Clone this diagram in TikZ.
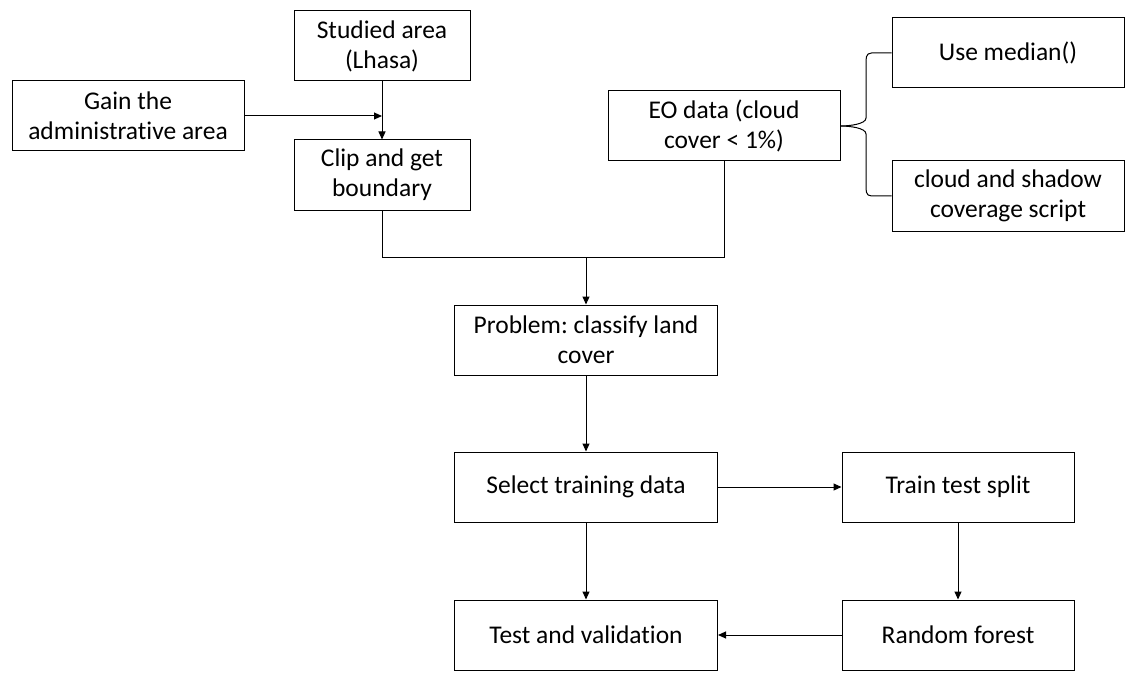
\documentclass[tikz,border=0pt]{standalone}
\usepackage{fontspec}
\setmainfont{Carlito}[Ligatures=NoCommon]
\usetikzlibrary{arrows.meta}
\frenchspacing
\begin{document}
\begin{tikzpicture}[x=1pt,y=-1pt,
  box/.style={draw=black,line width=1pt,minimum height=70pt,align=center,inner sep=2pt,font=\fontsize{25.5}{30}\selectfont},
  wbox/.style={box,minimum width=232pt},
  cbox/.style={box,minimum width=176pt},
  pbox/.style={box,minimum width=263pt},
  conn/.style={line width=1pt,-{Triangle[length=8pt,width=7pt]}},
  plain/.style={line width=1pt}]
\useasboundingbox (0,0) rectangle (1137,687);
\node[cbox] (studied) at (382,46) {Studied area\\(Lhasa)};
\node[wbox] (gain) at (128,116) {Gain the\\administrative area};
\node[cbox] (clip) at (382,175) {Clip and get\\boundary};
\node[wbox] (eo) at (724,126) {EO data (cloud\\cover < 1\%)};
\node[wbox] (median) at (1008,53) {Use median()};
\node[wbox] (cloud) at (1008,196) {cloud and shadow\\coverage script};
\node[pbox] (problem) at (586,340) {Problem: classify land\\cover};
\node[pbox] (select) at (586,487) {Select training data};
\node[wbox] (split) at (958,487) {Train test split};
\node[pbox] (test) at (586,635) {Test and validation};
\node[wbox] (forest) at (958,635) {Random forest};
\coordinate (join) at (586,257);
\coordinate (gainend) at (382,116);
\draw[conn] (studied) -- (clip);
\draw[conn] (gain.east) -- (gainend);
\draw[plain] (clip.south) |- (join);
\draw[plain] (eo.south) |- (join);
\draw[conn] (join) -- (problem.north);
\draw[plain] (median.west) -- ++(-20,0) .. controls ++(-6,0) and (866,59) .. (866,64)
  -- (866,118) .. controls (866,124) and (850,126) .. (eo.east);
\draw[plain] (cloud.west) -- ++(-20,0) .. controls ++(-6,0) and (866,190) .. (866,185)
  -- (866,134) .. controls (866,128) and (850,126) .. (eo.east);
\draw[conn] (problem) -- (select);
\draw[conn] (select) -- (split);
\draw[conn] (select) -- (test);
\draw[conn] (split) -- (forest);
\draw[conn] (forest) -- (test);
\end{tikzpicture}
\end{document}
